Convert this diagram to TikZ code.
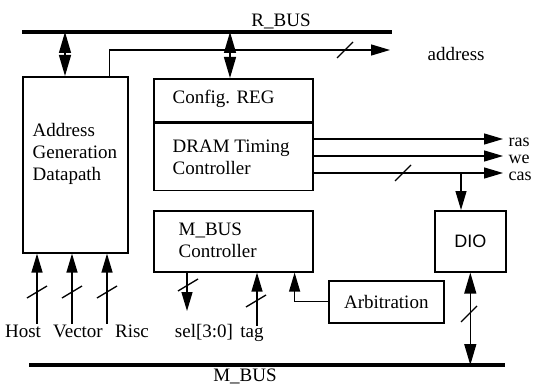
\documentclass[tikz,border=0pt]{standalone}
\usepackage{fontspec}
\setmainfont{Liberation Serif}
\newfontfamily\diofont{Liberation Sans}
\usetikzlibrary{arrows.meta}

\begin{document}
\begin{tikzpicture}
      [x=1pt, y=-1pt, line width=1.3pt,
       box/.style={draw, line width=1.6pt, inner sep=0pt,
         font=\fontsize{19}{22}\selectfont},
       txt/.style={inner sep=0pt, font=\fontsize{19}{22}\selectfont},
       bus/.style={line width=3.5pt},
       sig/.style={-{Triangle[length=19pt,width=11pt]}},
       bidir/.style={{Triangle[length=21pt,width=12pt]}-{Triangle[length=21pt,width=12pt]}}]
      \useasboundingbox (0,0) rectangle (540,385);
      % buses
      \coordinate (rbusL) at (22,32);
      \coordinate (rbusR) at (392,32);
      \coordinate (mbusL) at (29,365);
      \coordinate (mbusR) at (505,365);
      \draw[bus] (rbusL) -- (rbusR);
      \draw[bus] (mbusL) -- (mbusR);
      \node[txt, anchor=base] (rbus) at (281,27) {R\_BUS};
      \node[txt, anchor=base] (mbus) at (245,381) {M\_BUS};
      % blocks
      \node[box, anchor=north west, minimum width=105pt, minimum height=176pt] (agd) at (22,76) {};
      \node[box, anchor=north west, minimum width=159pt, minimum height=43pt] (cfg) at (153,78) {};
      \node[box, anchor=north, minimum width=159pt, minimum height=67pt] (dram) at (cfg.south) {};
      \node[box, anchor=north west, minimum width=159pt, minimum height=61pt] (mbc) at (153,210) {};
      \node[box, anchor=north west, minimum width=115pt, minimum height=42pt] (arb) at (328,280) {Arbitration};
      \node[box, anchor=north west, minimum width=71pt, minimum height=61pt,
        font=\diofont\fontsize{18}{20}\selectfont] (dio) at (434,210) {DIO};
      \node[txt, anchor=west, align=left] (agdtxt) at (32,154) {Address\\Generation\\Datapath};
      \node[txt, anchor=base west] (cfgtxt) at (172,103) {Config. REG};
      \node[txt, anchor=west, align=left] (dramtxt) at (172,157.5) {DRAM Timing\\Controller};
      \node[txt, anchor=west, align=left] (mbctxt) at (178,240.5) {M\_BUS\\Controller};
      % R_BUS ports
      \coordinate (agdport) at (65,32);
      \coordinate (cfgport) at (230,32);
      \draw[bidir] (agdport) -- (agdport |- agd.north);
      \draw[bidir] (cfgport) -- (cfgport |- cfg.north);
      % address out
      \coordinate (addrout) at (390,50);
      \node[txt, anchor=base west] (addr) at (427,61) {address};
      \draw[sig] ([xshift=-19pt]agd.north east) |- (addrout);
      % dram signals
      \foreach \y/\name in {139/ras, 156/we, 173/cas}
        {
        \node[txt, anchor=base west, inner xsep=5pt, font=\fontsize{18}{20}\selectfont]
          (\name) at (503,\y+7) {\name};
        \draw[sig] (dram.east |- 0,\y) -- (\name.west |- 0,\y);
        }
      \coordinate (casjn) at (461,173);
      \draw[sig] (casjn) -- (casjn |- dio.north);
      \draw[bidir] (dio.south) -- (dio.south |- mbusL);
      % inputs of the datapath
      \foreach \x/\lx/\name/\lbl in {37/23/host/Host, 72/78/vector/Vector, 107/132/risc/Risc}
        {
        \node[txt, anchor=base] (\name) at (\lx,337) {\lbl};
        \draw[sig] (\name.north -| \x,0) -- (agd.south -| \x,0);
        }
      % M_BUS controller
      \node[txt, anchor=base] (sel) at (204,337) {sel[3:0]};
      \node[txt, anchor=base] (tag) at (252,337) {tag};
      \coordinate (selout) at (187,311);
      \draw[sig] (selout |- mbc.south) -- (selout);
      \draw[sig] (tag.north -| 257,0) -- (mbc.south -| 257,0);
      \draw[sig] (arb.west) -| ([xshift=-19pt]mbc.south east);
      % bus width marks
      \foreach \x/\y in {345/50, 403/173, 469/314}
        \draw (\x,\y) ++(-8,8) -- ++(16,-16);
      \foreach \x/\y in {37/292, 72/292, 107/292, 188/285, 256/301}
        \draw (\x,\y) ++(-10,6) -- ++(20,-12);
      \end{tikzpicture}
\end{document}
